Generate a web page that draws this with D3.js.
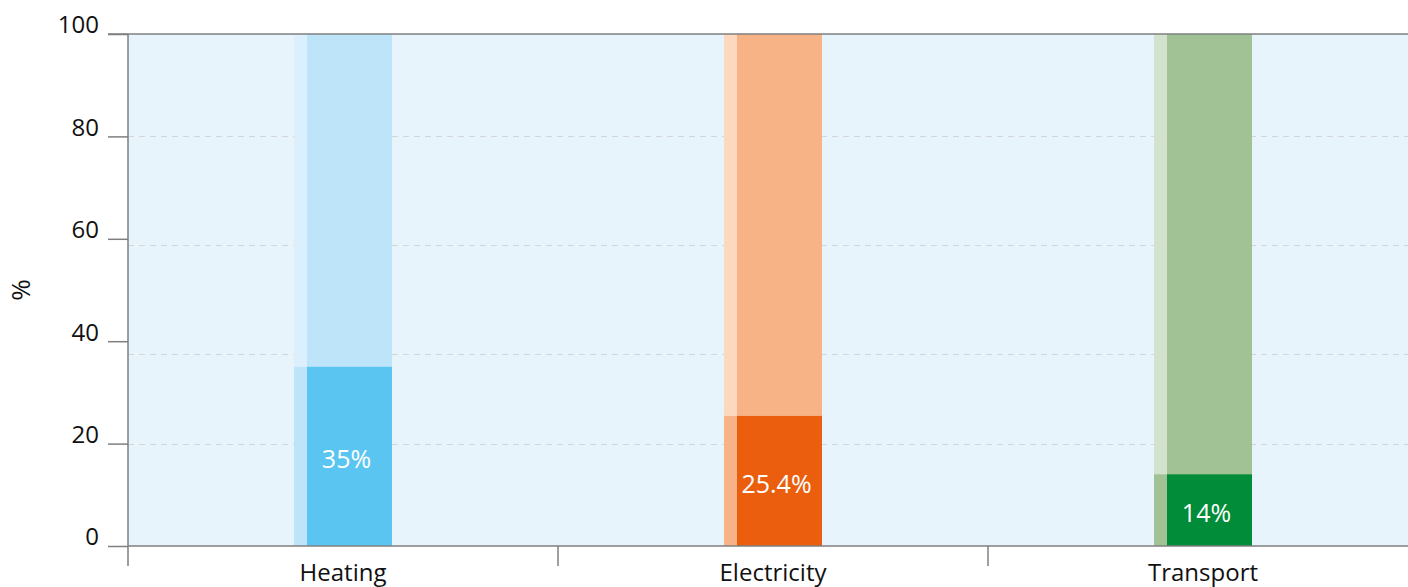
<!DOCTYPE html>
<html>
<head>
<meta charset="utf-8">
<script src="https://cdn.jsdelivr.net/npm/d3@7"></script>
<style>
  html, body { margin: 0; padding: 0; background: #fff; overflow: hidden; }
  text { font-family: "Open Sans", "Noto Sans", sans-serif; }
</style>
</head>
<body>
<script>
// chart data
const categories = ["Heating", "Electricity", "Transport"];
const shares = [35, 25.4, 14];
const shareLabels = ["35%", "25.4%", "14%"];
const yTicks = [0, 20, 40, 60, 80, 100];
// dashed guide lines, as they sit in the source picture
const gridValues = [20, 37.5, 58.8, 80];

const darkColors = ["#5bc5f2", "#ea5e0e", "#008c38"];
const lightColors = ["#bee4f9", "#f7b386", "#a0c295"];
const paleColors = ["#dceffc", "#fcd8bf", "#d3e2cd"];

const width = 1408, height = 587;
const plotLeft = 128, plotTop = 34, plotBottom = 546;

const svg = d3.select("body")
    .append("svg")
    .attr("width", width)
    .attr("height", height);

const x = d3.scaleBand()
    .domain(categories)
    .range([plotLeft, plotLeft + 3 * 430])
    .padding(0);

const y = d3.scaleLinear()
    .domain([0, 100])
    .range([plotBottom, plotTop]);

// plot background
svg.append("rect")
    .attr("x", plotLeft)
    .attr("y", plotTop)
    .attr("width", width - plotLeft)
    .attr("height", plotBottom - plotTop)
    .attr("fill", "#e8f4fc");

// dashed grid
svg.selectAll("line.grid")
    .data(gridValues)
    .enter()
    .append("line")
    .attr("class", "grid")
    .attr("x1", plotLeft)
    .attr("x2", width)
    .attr("y1", d => Math.round(y(d)) + 0.5)
    .attr("y2", d => Math.round(y(d)) + 0.5)
    .attr("stroke", "#d3d6d9")
    .attr("stroke-width", 1)
    .attr("stroke-dasharray", "6,5");

const stripW = 13, mainW = 85;
const groupStart = d => x(d) + x.bandwidth() / 2 - (stripW + mainW) / 2;

const groups = svg.selectAll("g.bar")
    .data(categories)
    .enter()
    .append("g")
    .attr("class", "bar");

// left strip: pale above the value, light below
groups.append("rect")
    .attr("x", d => groupStart(d))
    .attr("y", y(100))
    .attr("width", stripW)
    .attr("height", y(0) - y(100))
    .attr("fill", (d, i) => paleColors[i]);

groups.append("rect")
    .attr("x", d => groupStart(d))
    .attr("y", (d, i) => y(shares[i]))
    .attr("width", stripW)
    .attr("height", (d, i) => y(0) - y(shares[i]))
    .attr("fill", (d, i) => lightColors[i]);

// main bar: full 100% in light colour, share in dark colour
groups.append("rect")
    .attr("x", d => groupStart(d) + stripW)
    .attr("y", y(100))
    .attr("width", mainW)
    .attr("height", y(0) - y(100))
    .attr("fill", (d, i) => lightColors[i]);

groups.append("rect")
    .attr("x", d => groupStart(d) + stripW)
    .attr("y", (d, i) => y(shares[i]))
    .attr("width", mainW)
    .attr("height", (d, i) => y(0) - y(shares[i]))
    .attr("fill", (d, i) => darkColors[i]);

groups.append("text")
    .attr("x", d => groupStart(d) + stripW + mainW / 2 - 3)
    .attr("y", (d, i) => (y(shares[i]) + y(0)) / 2 + 3)
    .attr("dy", "0.35em")
    .attr("text-anchor", "middle")
    .attr("fill", "#fff")
    .attr("font-size", 25)
    .text((d, i) => shareLabels[i]);

// frame lines
const axisColor = "#7f7f7f";
svg.append("line")
    .attr("x1", plotLeft - 20).attr("x2", width)
    .attr("y1", plotTop).attr("y2", plotTop)
    .attr("stroke", axisColor).attr("stroke-width", 1.5);

svg.append("line")
    .attr("x1", plotLeft).attr("x2", width)
    .attr("y1", plotBottom).attr("y2", plotBottom)
    .attr("stroke", axisColor).attr("stroke-width", 1.5);

svg.append("line")
    .attr("x1", plotLeft).attr("x2", plotLeft)
    .attr("y1", plotTop).attr("y2", plotBottom + 20)
    .attr("stroke", axisColor).attr("stroke-width", 1.5);

// y axis
const yAxis = svg.append("g")
    .attr("transform", `translate(${plotLeft},0)`)
    .call(d3.axisLeft(y).tickValues(yTicks).tickSize(20).tickPadding(9));
yAxis.select(".domain").remove();
yAxis.selectAll(".tick line").attr("stroke", axisColor).attr("stroke-width", 1.5);
yAxis.selectAll(".tick text")
    .attr("font-size", 24)
    .attr("fill", "#111")
    .attr("dy", "-0.05em");

// x axis: ticks on band boundaries, labels at band centres
svg.selectAll("line.xtick")
    .data(categories.slice(1))
    .enter()
    .append("line")
    .attr("class", "xtick")
    .attr("x1", d => x(d)).attr("x2", d => x(d))
    .attr("y1", plotBottom).attr("y2", plotBottom + 20)
    .attr("stroke", axisColor).attr("stroke-width", 1.5);

svg.selectAll("text.xlabel")
    .data(categories)
    .enter()
    .append("text")
    .attr("class", "xlabel")
    .attr("x", d => x(d) + x.bandwidth() / 2)
    .attr("y", plotBottom + 35)
    .attr("text-anchor", "middle")
    .attr("font-size", 24)
    .attr("fill", "#111")
    .text(d => d);

// y axis title
svg.append("text")
    .attr("transform", "translate(30,290) rotate(-90)")
    .attr("text-anchor", "middle")
    .attr("font-size", 26)
    .attr("fill", "#111")
    .text("%");
</script>
</body>
</html>
